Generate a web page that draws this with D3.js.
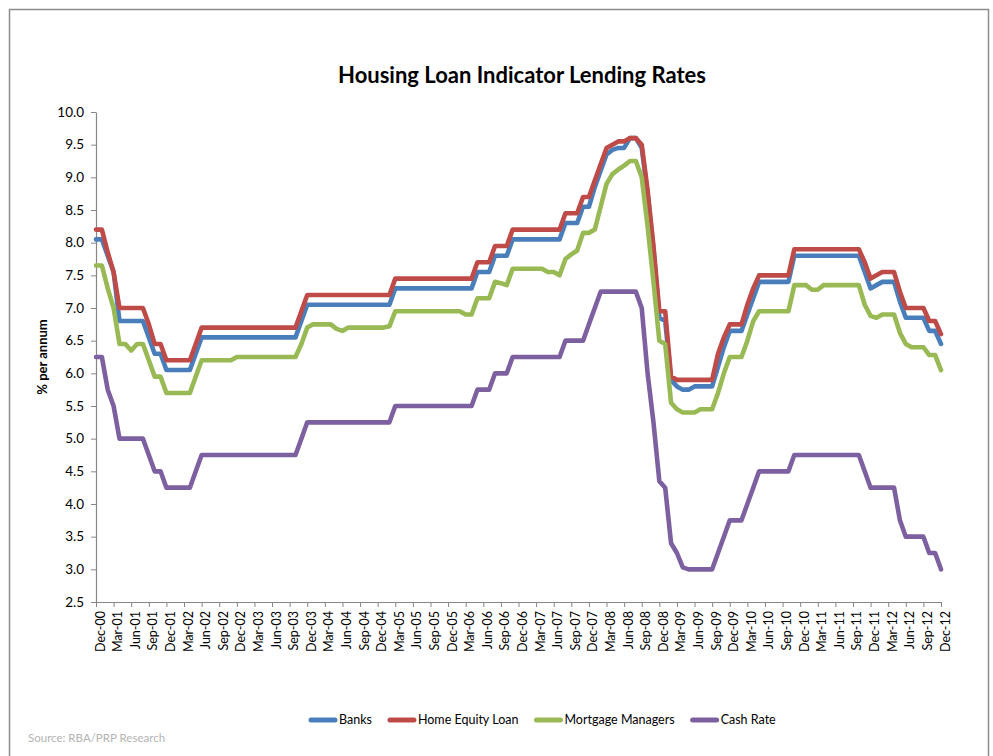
<!DOCTYPE html>
<html>
<head>
<meta charset="utf-8">
<script src="https://cdn.jsdelivr.net/npm/d3@7"></script>
<style>
  html, body { margin: 0; padding: 0; background: #fff; }
  svg { display: block; }
  text { font-family: Lato, "Open Sans", sans-serif; }
</style>
</head>
<body>
<svg id="chart" width="993" height="756"></svg>
<script>
// ---------- DATA ----------
const title = "Housing Loan Indicator Lending Rates";
const yAxisTitle = "% per annum";
const sourceNote = "Source: RBA/PRP Research";
const seriesNames = ["Banks", "Home Equity Loan", "Mortgage Managers", "Cash Rate"];
const seriesColors = ["#4A7EBB", "#BE4B48", "#98B954", "#7D60A0"];

// monthly categories Dec-00 ... Dec-12
const monthNames = ["Jan","Feb","Mar","Apr","May","Jun","Jul","Aug","Sep","Oct","Nov","Dec"];
const categories = ["Dec-00"];
for (let yr = 1; yr <= 12; yr++) {
  for (let m = 0; m < 12; m++) categories.push(monthNames[m] + "-" + String(yr).padStart(2, "0"));
}

const tickLabels = [
  "Dec-00","Mar-01","Jun-01","Sep-01","Dec-01","Mar-02","Jun-02","Sep-02","Dec-02",
  "Mar-03","Jun-03","Sep-03","Dec-03","Mar-04","Jun-04","Sep-04","Dec-04",
  "Mar-05","Jun-05","Sep-05","Dec-05","Mar-06","Jun-06","Sep-06","Dec-06",
  "Mar-07","Jun-07","Sep-07","Dec-07","Mar-08","Jun-08","Sep-08","Dec-08",
  "Mar-09","Jun-09","Sep-09","Dec-09","Mar-10","Jun-10","Sep-10","Dec-10",
  "Mar-11","Jun-11","Sep-11","Dec-11","Mar-12","Jun-12","Sep-12","Dec-12"
];
const yTicks = [2.5,3.0,3.5,4.0,4.5,5.0,5.5,6.0,6.5,7.0,7.5,8.0,8.5,9.0,9.5,10.0];

const banks = [
  8.05,
  8.05,7.80,7.55,6.80,6.80,6.80,6.80,6.80,6.55,6.30,6.30,6.05,
  6.05,6.05,6.05,6.05,6.30,6.55,6.55,6.55,6.55,6.55,6.55,6.55,
  6.55,6.55,6.55,6.55,6.55,6.55,6.55,6.55,6.55,6.55,6.80,7.05,
  7.05,7.05,7.05,7.05,7.05,7.05,7.05,7.05,7.05,7.05,7.05,7.05,
  7.05,7.05,7.30,7.30,7.30,7.30,7.30,7.30,7.30,7.30,7.30,7.30,
  7.30,7.30,7.30,7.30,7.55,7.55,7.55,7.80,7.80,7.80,8.05,8.05,
  8.05,8.05,8.05,8.05,8.05,8.05,8.05,8.30,8.30,8.30,8.55,8.55,
  8.85,9.10,9.35,9.42,9.45,9.45,9.60,9.60,9.45,8.75,7.90,6.85,
  6.80,5.90,5.80,5.75,5.75,5.80,5.80,5.80,5.80,6.10,6.40,6.65,
  6.65,6.65,6.90,7.15,7.40,7.40,7.40,7.40,7.40,7.40,7.80,7.80,
  7.80,7.80,7.80,7.80,7.80,7.80,7.80,7.80,7.80,7.80,7.55,7.30,
  7.35,7.40,7.40,7.40,7.10,6.85,6.85,6.85,6.85,6.65,6.65,6.45
];
const homeEquity = [
  8.20,
  8.20,7.85,7.55,7.00,7.00,7.00,7.00,7.00,6.75,6.45,6.45,6.20,
  6.20,6.20,6.20,6.20,6.45,6.70,6.70,6.70,6.70,6.70,6.70,6.70,
  6.70,6.70,6.70,6.70,6.70,6.70,6.70,6.70,6.70,6.70,6.95,7.20,
  7.20,7.20,7.20,7.20,7.20,7.20,7.20,7.20,7.20,7.20,7.20,7.20,
  7.20,7.20,7.45,7.45,7.45,7.45,7.45,7.45,7.45,7.45,7.45,7.45,
  7.45,7.45,7.45,7.45,7.70,7.70,7.70,7.95,7.95,7.95,8.20,8.20,
  8.20,8.20,8.20,8.20,8.20,8.20,8.20,8.45,8.45,8.45,8.70,8.70,
  8.95,9.20,9.45,9.50,9.55,9.55,9.60,9.60,9.50,8.80,7.95,6.95,
  6.95,5.95,5.90,5.90,5.90,5.90,5.90,5.90,5.90,6.30,6.55,6.75,
  6.75,6.75,7.05,7.30,7.50,7.50,7.50,7.50,7.50,7.50,7.90,7.90,
  7.90,7.90,7.90,7.90,7.90,7.90,7.90,7.90,7.90,7.90,7.70,7.45,
  7.50,7.55,7.55,7.55,7.25,7.00,7.00,7.00,7.00,6.80,6.80,6.60
];
const mortgageManagers = [
  7.65,
  7.65,7.30,7.00,6.45,6.45,6.35,6.45,6.45,6.20,5.95,5.95,5.70,
  5.70,5.70,5.70,5.70,5.95,6.20,6.20,6.20,6.20,6.20,6.20,6.25,
  6.25,6.25,6.25,6.25,6.25,6.25,6.25,6.25,6.25,6.25,6.45,6.70,
  6.75,6.75,6.75,6.75,6.68,6.65,6.70,6.70,6.70,6.70,6.70,6.70,
  6.70,6.72,6.95,6.95,6.95,6.95,6.95,6.95,6.95,6.95,6.95,6.95,
  6.95,6.95,6.90,6.90,7.15,7.15,7.15,7.40,7.38,7.35,7.60,7.60,
  7.60,7.60,7.60,7.60,7.55,7.55,7.50,7.75,7.82,7.88,8.15,8.15,
  8.20,8.55,8.90,9.05,9.12,9.18,9.25,9.25,9.00,8.25,7.40,6.50,
  6.45,5.55,5.45,5.40,5.40,5.40,5.45,5.45,5.45,5.70,6.00,6.25,
  6.25,6.25,6.50,6.80,6.95,6.95,6.95,6.95,6.95,6.95,7.35,7.35,
  7.35,7.28,7.28,7.35,7.35,7.35,7.35,7.35,7.35,7.35,7.05,6.88,
  6.85,6.90,6.90,6.90,6.62,6.45,6.40,6.40,6.40,6.28,6.28,6.05
];
const cashRate = [
  6.25,
  6.25,5.75,5.50,5.00,5.00,5.00,5.00,5.00,4.75,4.50,4.50,4.25,
  4.25,4.25,4.25,4.25,4.50,4.75,4.75,4.75,4.75,4.75,4.75,4.75,
  4.75,4.75,4.75,4.75,4.75,4.75,4.75,4.75,4.75,4.75,5.00,5.25,
  5.25,5.25,5.25,5.25,5.25,5.25,5.25,5.25,5.25,5.25,5.25,5.25,
  5.25,5.25,5.50,5.50,5.50,5.50,5.50,5.50,5.50,5.50,5.50,5.50,
  5.50,5.50,5.50,5.50,5.75,5.75,5.75,6.00,6.00,6.00,6.25,6.25,
  6.25,6.25,6.25,6.25,6.25,6.25,6.25,6.50,6.50,6.50,6.50,6.75,
  7.00,7.25,7.25,7.25,7.25,7.25,7.25,7.25,7.00,6.00,5.25,4.35,
  4.25,3.40,3.25,3.03,3.00,3.00,3.00,3.00,3.00,3.25,3.50,3.75,
  3.75,3.75,4.00,4.25,4.50,4.50,4.50,4.50,4.50,4.50,4.75,4.75,
  4.75,4.75,4.75,4.75,4.75,4.75,4.75,4.75,4.75,4.75,4.50,4.25,
  4.25,4.25,4.25,4.25,3.75,3.50,3.50,3.50,3.50,3.25,3.25,3.00
];
const seriesValues = [banks, homeEquity, mortgageManagers, cashRate];

// ---------- LAYOUT ----------
const svg = d3.select("#chart");
const plot = { left: 96, right: 941, top: 112, bottom: 602 };

svg.append("rect")
  .attr("x", 9.5).attr("y", 9.5).attr("width", 979).attr("height", 780)
  .attr("fill", "#fff").attr("stroke", "#8c8c8c").attr("stroke-width", 1.5);

const x = d3.scalePoint().domain(categories).range([plot.left, plot.right]);
const y = d3.scaleLinear().domain([2.5, 10]).range([plot.bottom, plot.top]);

// Title
svg.append("text")
  .attr("x", 522).attr("y", 83)
  .attr("text-anchor", "middle")
  .attr("font-size", 22).attr("font-weight", "bold").attr("fill", "#000")
  .text(title);

// Y axis
const yAxis = svg.append("g")
  .attr("transform", `translate(${plot.left},0)`)
  .call(d3.axisLeft(y).tickValues(yTicks).tickFormat(d3.format(".1f")).tickSize(5).tickSizeOuter(0).tickPadding(7));
yAxis.select(".domain").attr("stroke", "#868686").attr("stroke-width", 1.2);
yAxis.selectAll(".tick line").attr("stroke", "#868686");
yAxis.selectAll(".tick text").attr("font-size", 13.5).attr("fill", "#000").attr("font-family", "Lato, sans-serif");

// X axis
const xAxis = svg.append("g")
  .attr("transform", `translate(0,${plot.bottom})`)
  .call(d3.axisBottom(x).tickValues(tickLabels).tickSize(5).tickSizeOuter(0));
xAxis.select(".domain").attr("stroke", "#868686").attr("stroke-width", 1.2);
xAxis.selectAll(".tick line").attr("stroke", "#868686");
xAxis.selectAll(".tick text")
  .attr("font-size", 12.5).attr("fill", "#000").attr("font-family", "Lato, sans-serif")
  .attr("text-anchor", "end")
  .attr("x", -9).attr("y", 0).attr("dy", "0.32em").attr("dx", 0)
  .attr("transform", "translate(4,0) rotate(-90)");

// Y axis title
svg.append("text")
  .attr("transform", "translate(47,357) rotate(-90)")
  .attr("text-anchor", "middle")
  .attr("font-size", 13).attr("font-weight", "bold").attr("fill", "#000")
  .text(yAxisTitle);

// Lines
const line = d3.line()
  .x((d, i) => x(categories[i]))
  .y(d => y(d));

seriesValues.forEach((vals, k) => {
  svg.append("path")
    .datum(vals)
    .attr("fill", "none")
    .attr("stroke", seriesColors[k])
    .attr("stroke-width", 4.6)
    .attr("stroke-linejoin", "round")
    .attr("stroke-linecap", "round")
    .attr("d", line);
});

// Legend
const legend = svg.append("g").attr("transform", "translate(0,720)");
let lx = 309;
seriesNames.forEach((name, k) => {
  legend.append("line")
    .attr("x1", lx + 2).attr("x2", lx + 26).attr("y1", 0).attr("y2", 0)
    .attr("stroke", seriesColors[k]).attr("stroke-width", 5).attr("stroke-linecap", "round");
  const t = legend.append("text")
    .attr("x", lx + 30).attr("y", 0).attr("dy", "0.35em")
    .attr("font-size", 12.5).attr("fill", "#000")
    .text(name);
  lx += 30 + t.node().getComputedTextLength() + 16;
});

// Source
svg.append("text")
  .attr("x", 28).attr("y", 742)
  .attr("font-size", 11.5).attr("fill", "#b3b3b3")
  .text(sourceNote);
</script>
</body>
</html>
